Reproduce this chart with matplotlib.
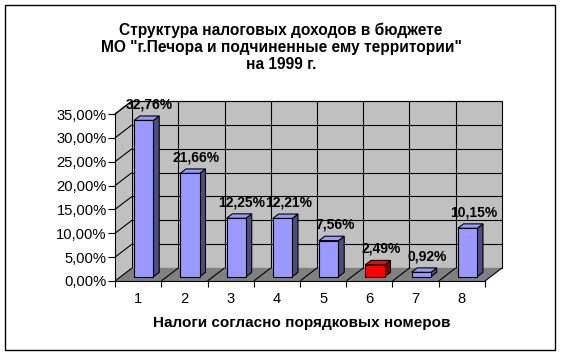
import matplotlib
matplotlib.use('Agg')
import matplotlib.pyplot as plt
from matplotlib.patches import Polygon, Rectangle
from matplotlib.transforms import IdentityTransform, ScaledTranslation

categories = ['1', '2', '3', '4', '5', '6', '7', '8']
shares = [32.76, 21.66, 12.25, 12.21, 7.56, 2.49, 0.92, 10.15]
front_colors = ['#9999FF', '#9999FF', '#9999FF', '#9999FF', '#9999FF', '#FF0000', '#9999FF', '#9999FF']
side_colors = ['#4D4D80', '#4D4D80', '#4D4D80', '#4D4D80', '#4D4D80', '#800000', '#4D4D80', '#4D4D80']
y_ticks = [0, 5, 10, 15, 20, 25, 30, 35]

title = 'Структура налоговых доходов в бюджете\nМО "г.Печора и подчиненные ему территории"\nна 1999 г.'
x_title = 'Налоги согласно порядковых номеров'

W, H = 562, 356
DX, DY = 17, 13          # depth of the 3d box in pixels
BAR_D0, BAR_D1 = 0.33, 0.67
BAR_W = 0.42

plt.rcParams['font.family'] = ['Liberation Sans', 'DejaVu Sans']

fig = plt.figure(figsize=(W / 100, H / 100), dpi=100)
ax = fig.add_axes([115 / W, 75 / H, 370 / W, 167 / H])
ax.set_xlim(0.5, 8.5)
ax.set_ylim(0, 35)
ax.patch.set_visible(False)


def proj(x, y, d):
    px, py = ax.transData.transform((x, y))
    return (px + d * DX, py + d * DY)


def poly(points, fc, z, lw=0.8):
    p = Polygon(points, closed=True, facecolor=fc, edgecolor='black', linewidth=lw,
                transform=IdentityTransform(), clip_on=False, zorder=z)
    ax.add_patch(p)


def line(p0, p1, z=1.5, lw=0.8):
    ax.plot([p0[0], p1[0]], [p0[1], p1[1]], color='black', linewidth=lw,
            transform=IdentityTransform(), clip_on=False, zorder=z, solid_capstyle='butt')


n = len(categories)
x0, x1 = 0.5, n + 0.5
ymax = y_ticks[-1]

# walls and floor
poly([proj(x0, 0, 1), proj(x1, 0, 1), proj(x1, ymax, 1), proj(x0, ymax, 1)], '#C0C0C0', 1)
poly([proj(x0, 0, 0), proj(x0, 0, 1), proj(x0, ymax, 1), proj(x0, ymax, 0)], '#C0C0C0', 1, lw=0)
poly([proj(x0, 0, 0), proj(x1, 0, 0), proj(x1, 0, 1), proj(x0, 0, 1)], '#808080', 1.2, lw=0)

for yv in y_ticks[1:]:
    line(proj(x0, yv, 1), proj(x1, yv, 1))
    line(proj(x0, yv, 0), proj(x0, yv, 1))
line(proj(x0, ymax, 0), proj(x0, ymax, 1))
for k in range(n + 1):
    b = x0 + k
    line(proj(b, 0, 0), proj(b, 0, 1))
    if 0 < k < n:
        line(proj(b, 0, 1), proj(b, ymax, 1))

# bars
xs = list(range(1, n + 1))
shift = ScaledTranslation(BAR_D0 * DX / 100, BAR_D0 * DY / 100, fig.dpi_scale_trans)
ax.bar(xs, shares, width=BAR_W, color=front_colors, edgecolor='black', linewidth=0.8,
       transform=ax.transData + shift, zorder=3, clip_on=False)
for x, v, sc, fc in zip(xs, shares, side_colors, front_colors):
    l, r = x - BAR_W / 2, x + BAR_W / 2
    poly([proj(r, 0, BAR_D0), proj(r, 0, BAR_D1), proj(r, v, BAR_D1), proj(r, v, BAR_D0)], sc, 2.5)
    poly([proj(l, v, BAR_D0), proj(r, v, BAR_D0), proj(r, v, BAR_D1), proj(l, v, BAR_D1)], fc, 2.5)
    lab = f'{v:.2f}%'.replace('.', ',')
    px, py = proj(x, v, 0.5)
    ax.annotate(lab, xy=(px, py), xycoords=IdentityTransform(), xytext=(3, 14),
                textcoords='offset pixels', ha='center', va='center',
                fontsize=10, fontweight='bold', zorder=5, annotation_clip=False)

# axes
for s in ['top', 'right']:
    ax.spines[s].set_visible(False)
ax.spines['left'].set_linewidth(0.8)
ax.spines['bottom'].set_linewidth(0.8)
ax.spines['left'].set_zorder(4)
ax.spines['bottom'].set_zorder(4)
ax.set_yticks(y_ticks)
ax.set_yticklabels([f'{t:.2f}%'.replace('.', ',') for t in y_ticks], fontsize=10.6)
ax.tick_params(axis='y', length=5, width=0.8, pad=1)
ax.set_xticks(xs)
ax.set_xticklabels(categories, fontsize=10.6)
ax.set_xticks([x0 + k for k in range(n + 1)], minor=True)
ax.tick_params(axis='x', which='major', length=0, pad=8)
ax.tick_params(axis='x', which='minor', length=4, width=0.8)

fig.text(0.5, 1 - 47 / H, title, ha='center', va='center', fontsize=11.2,
         fontweight='bold', linespacing=1.18)
fig.text(302 / W, 1 - 323 / H, x_title, ha='center', va='center', fontsize=11,
         fontweight='bold')

fig.patches.append(Rectangle((5 / W, 6 / H), 550 / W, 345 / H, transform=fig.transFigure,
                             fill=False, edgecolor='black', linewidth=1))

fig.savefig('out.png', dpi=100)
